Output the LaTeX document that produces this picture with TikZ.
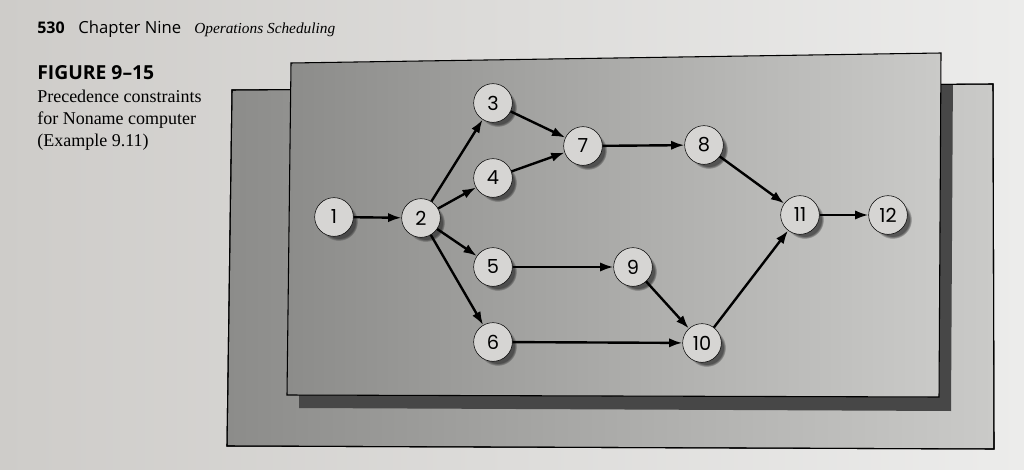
\documentclass[tikz,border=0pt]{standalone}
\usepackage{fontspec}
\setmainfont{Liberation Serif}
\newfontfamily\headfont{Open Sans}
\newfontfamily\numfont{Poppins}
\usetikzlibrary{shadows,arrows.meta}
\definecolor{pageL}{RGB}{206,204,201}
\definecolor{pageR}{RGB}{236,236,235}
\definecolor{panelL}{RGB}{140,140,138}
\definecolor{panelR}{RGB}{202,202,200}
\definecolor{jobfill}{RGB}{214,213,211}

\begin{document}
\begin{tikzpicture}[x=0.75pt,y=-0.75pt]
    \tikzstyle{job}=[circle,draw=black,thin,fill=jobfill,inner sep=0pt,minimum size=29pt,font=\numfont\fontsize{14.5}{14.5}\selectfont,circular drop shadow={shadow xshift=3.5pt,shadow yshift=-3.5pt,shadow scale=1,opacity=.75,fill=black!80}]
    \tikzstyle{prec}=[->,>={Latex[length=10pt,width=7pt]},line width=1.8pt]
    \tikzstyle{panel}=[draw=black,line width=0.8pt,left color=panelL,right color=panelR]
    % page and panels
    \fill[left color=pageL,right color=pageR] (0,0) rectangle (1024,470);
    \useasboundingbox (0,0) rectangle (1024,470);
    \coordinate (b1) at (232,90);
    \coordinate (b2) at (993,84);
    \coordinate (b3) at (994,449);
    \coordinate (b4) at (227,446);
    \path[panel] (b1) -- (b2) -- (b3) -- (b4) -- cycle;
    \begin{scope}
        \clip (b1) -- (b2) -- (b3) -- (b4) -- cycle;
        \fill[black!72] (303,76) -- (953,66) -- (951,411) -- (299,408) -- cycle;
    \end{scope}
    \draw[line width=0.8pt] (b1) -- (b2) -- (b3) -- (b4) -- cycle;
    \path[panel] (291,63) -- (941,53) -- (939,397) -- (287,395) -- cycle;
    % heading and caption
    \node[anchor=base west,inner sep=0pt,font=\headfont\bfseries\fontsize{12}{12}\selectfont] (page) at (37,34) {530};
    \node[anchor=base west,inner sep=0pt,font=\headfont\fontsize{12.5}{12.5}\selectfont] (chap) at (78,34) {Chapter Nine};
    \node[anchor=base west,inner sep=0pt,font=\itshape\fontsize{11.5}{12}\selectfont] (title) at (194,34) {Operations Scheduling};
    \node[anchor=base west,inner sep=0pt,font=\headfont\bfseries\fontsize{14.5}{14.5}\selectfont] (fig) at (37,80) {FIGURE 9–15};
    \node[anchor=base west,inner sep=0pt,font=\fontsize{13.5}{13.5}\selectfont] (cap1) at (37,103) {Precedence constraints};
    \node[anchor=base west,inner sep=0pt,font=\fontsize{13.5}{13.5}\selectfont] (cap2) at (37,125) {for Noname computer};
    \node[anchor=base west,inner sep=0pt,font=\fontsize{13.5}{13.5}\selectfont] (cap3) at (37,147) {(Example 9.11)};
    % jobs
    \node (n1)[job]  at (334,217) {1};
    \node (n2)[job]  at (421,218) {2};
    \node (n3)[job]  at (493,103) {3};
    \node (n4)[job]  at (493,178) {4};
    \node (n5)[job]  at (493,267) {5};
    \node (n6)[job]  at (493,342) {6};
    \node (n7)[job]  at (583,146) {7};
    \node (n8)[job]  at (704,145) {8};
    \node (n9)[job]  at (633,267) {9};
    \node (n10)[job] at (702,343) {10};
    \node (n11)[job] at (800,215) {11};
    \node (n12)[job] at (888,215) {12};
    % precedence
    \draw[prec] (n1) -- (n2);
    \draw[prec] (n2) -- (n3);
    \draw[prec] (n2) -- (n4);
    \draw[prec] (n2) -- (n5);
    \draw[prec] (n2) -- (n6);
    \draw[prec] (n3) -- (n7);
    \draw[prec] (n4) -- (n7);
    \draw[prec] (n7) -- (n8);
    \draw[prec] (n5) -- (n9);
    \draw[prec] (n9) -- (n10);
    \draw[prec] (n6) -- (n10);
    \draw[prec] (n8) -- (n11);
    \draw[prec] (n10) -- (n11);
    \draw[prec] (n11) -- (n12);
\end{tikzpicture}
\end{document}
